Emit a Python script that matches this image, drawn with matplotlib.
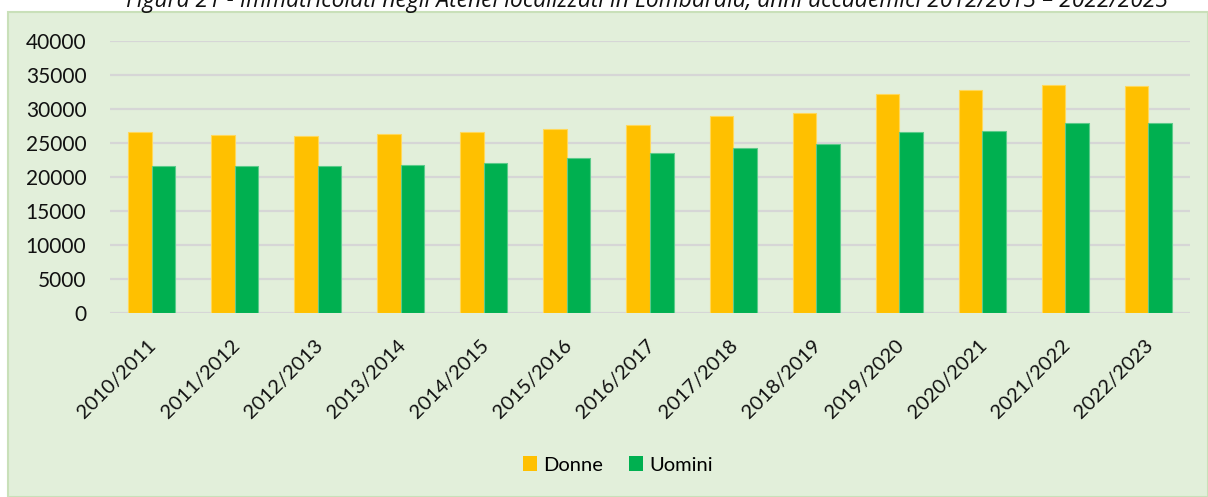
import matplotlib
matplotlib.use("Agg")
import matplotlib.pyplot as plt
from matplotlib.patches import Rectangle, Patch
import matplotlib.transforms as mtransforms
import numpy as np

categories = ["2010/2011", "2011/2012", "2012/2013", "2013/2014", "2014/2015",
              "2015/2016", "2016/2017", "2017/2018", "2018/2019", "2019/2020",
              "2020/2021", "2021/2022", "2022/2023"]
donne = [26570, 26220, 25970, 26370, 26620, 27060, 27590, 28970, 29460,
         32250, 32840, 33530, 33430]
uomini = [21570, 21600, 21620, 21760, 22060, 22840, 23570, 24210, 24850,
          26620, 26810, 27940, 27940]
yticks = [0, 5000, 10000, 15000, 20000, 25000, 30000, 35000, 40000]
title = "Figura 21 - Immatricolati negli Atenei localizzati in Lombardia, anni accademici 2012/2013 \u2013 2022/2023"

plt.rcParams['font.family'] = ['Lato', 'DejaVu Sans']

W, H = 1208, 497
fig = plt.figure(figsize=(W / 100, H / 100), dpi=100)
fig.patch.set_facecolor("white")

bg = "#E2EFDA"
fig.patches.append(Rectangle((8 / W, 0), 1 - 8 / W, 1 - 12 / H,
                             transform=fig.transFigure, facecolor=bg,
                             edgecolor="#C9E0B9", linewidth=1.5, zorder=-5))

fig.text(647 / W, 1 - 7 / H, title, ha="center", va="baseline",
         fontsize=16.5, style="italic", color="#111111",
         family=['Open Sans', 'DejaVu Sans'])

ax = fig.add_axes([110 / W, 1 - 313 / H, 1080 / W, (313 - 41) / H])
ax.set_facecolor("none")
ax.set_zorder(2)

x = np.arange(len(categories))
w = 0.283
ax.bar(x - w / 2, donne, width=w, color="#FFC000", edgecolor="#FFD85A",
       linewidth=0.8, label="Donne", zorder=3)
ax.bar(x + w / 2, uomini, width=w, color="#00B050", edgecolor="#5CCB8A",
       linewidth=0.8, label="Uomini", zorder=3)

ax.set_xlim(-0.5, len(categories) - 0.5)
ax.set_ylim(0, 40000)
ax.set_yticks(yticks)
ax.set_yticklabels([str(v) for v in yticks])
ax.grid(axis="y", color="#D6D6D6", linewidth=1.6, zorder=0)
ax.set_axisbelow(True)
for s in ax.spines.values():
    s.set_visible(False)
ax.tick_params(axis="both", length=0, colors="#111111")
ax.tick_params(axis="y", pad=17, labelsize=15)
ax.set_xticks(x)
ax.set_xticklabels(categories, rotation=45, ha="right", rotation_mode="anchor")
ax.tick_params(axis="x", pad=17, labelsize=14.5)
offset = mtransforms.ScaledTranslation(-4 / 100, 0, fig.dpi_scale_trans)
for lab in ax.get_xticklabels():
    lab.set_transform(lab.get_transform() + offset)

handles = [Patch(facecolor="#FFC000", edgecolor="none"),
           Patch(facecolor="#00B050", edgecolor="none")]
fig.legend(handles, ["Donne", "Uomini"], loc="center",
           bbox_to_anchor=(618 / W, 1 - 465 / H), ncol=2, frameon=False,
           fontsize=14.5, handlelength=0.7, handleheight=0.7,
           handletextpad=0.3, columnspacing=1.3)

fig.savefig("out.png", dpi=100, facecolor=fig.get_facecolor())
